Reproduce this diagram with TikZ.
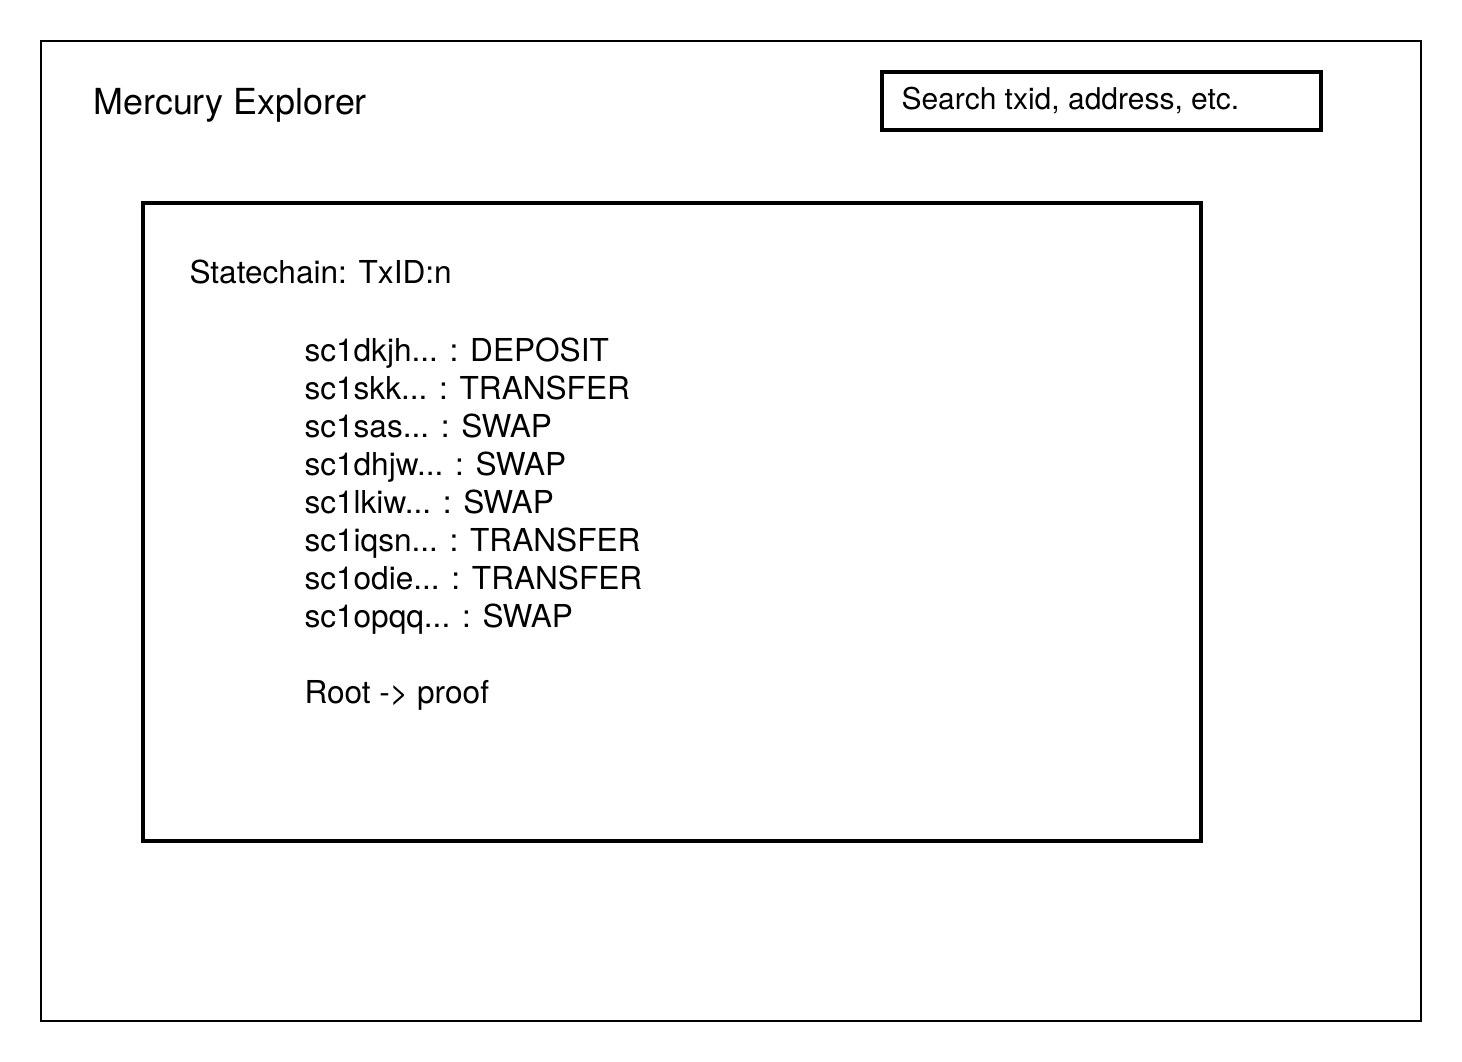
\documentclass[tikz,border=0pt]{standalone}
\usepackage{fontspec}
\setmainfont{TeX Gyre Heros}

\tikzset{every picture/.style={line width=0.75pt}}
\tikzset{
	pagebox/.style={draw, line width=1.5pt},
	panelbox/.style={draw, line width=3pt, inner sep=0pt, anchor=north west},
	txt/.style={anchor=base west, inner sep=0pt, align=left},
	rowtxt/.style={txt, font=\fontsize{23.7}{28}\selectfont}
}

\begin{document}
\begin{tikzpicture}[x=0.75pt,y=0.75pt,yscale=-1,xscale=1]
	\useasboundingbox (0,0) rectangle (1462,1062);
	
	%Shape: Rectangle [page] 
	\draw [pagebox] (41,41) rectangle (1421,1021) ;
	%Shape: Rectangle [search] 
	\node (search) [panelbox, minimum width=329.25pt, minimum height=43.5pt] at (880,70) {};
	%Shape: Rectangle [panel] 
	\node (panel) [panelbox, minimum width=793.5pt, minimum height=478.5pt] at (141,201) {};
	
	% Text Node
	\node (title) [txt, font=\fontsize{26.9}{32}\selectfont] at (93,115) {Mercury Explorer};
	% Text Node
	\node (searchtxt) [txt, font=\fontsize{22.5}{27}\selectfont] at (901,110) {Search txid, address, etc.};
	% Text Node
	\node (chain) [rowtxt] at (189,284) {Statechain: TxID:n};
	% Text Node
	\node (row1) [rowtxt] at (304,361) {sc1dkjh... : DEPOSIT};
	% Text Node
	\node (row2) [rowtxt] at (304,399) {sc1skk... : TRANSFER};
	% Text Node
	\node (row3) [rowtxt] at (304,437) {sc1sas... : SWAP};
	% Text Node
	\node (row4) [rowtxt] at (304,475) {sc1dhjw... : SWAP};
	% Text Node
	\node (row5) [rowtxt] at (304,513) {sc1lkiw... : SWAP};
	% Text Node
	\node (row6) [rowtxt] at (304,551) {sc1iqsn... : TRANSFER};
	% Text Node
	\node (row7) [rowtxt] at (304,589) {sc1odie... : TRANSFER};
	% Text Node
	\node (row8) [rowtxt] at (304,627) {sc1opqq... : SWAP};
	% Text Node
	\node (root) [rowtxt] at (304,703) {Root -> proof};
	
\end{tikzpicture}
\end{document}
